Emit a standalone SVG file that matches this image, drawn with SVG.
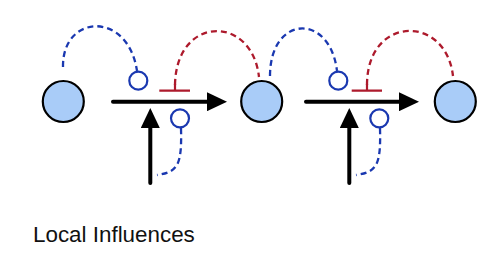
<svg xmlns="http://www.w3.org/2000/svg" width="500" height="265" viewBox="0 0 500 265">
<style>
.node{fill:#a9ccf8;stroke:#000;stroke-width:2.2}
.arrow{stroke:#000;stroke-width:4;fill:none;stroke-linecap:round}
.act{stroke:#1a38b0;stroke-width:2.3;fill:none;stroke-dasharray:6,4}
.inh{stroke:#ad1a2c;stroke-width:2.3;fill:none;stroke-dasharray:6,4}
.tbar{stroke:#ad1a2c;stroke-width:2.2;fill:none}
.ring{fill:#fff;stroke:#1a38b0;stroke-width:2.2}
.label{font-family:"Liberation Sans",Arial,sans-serif;font-size:22.4px;fill:#111}
</style>
<defs>
<marker id="ah" markerUnits="userSpaceOnUse" viewBox="0 0 20 19" markerWidth="20" markerHeight="19" refX="0" refY="9.5" orient="auto">
<path d="M0,0 L20,9.5 L0,19 z" fill="#000"/>
</marker>
</defs>
<g id="connectors">
<line class="arrow" x1="113" y1="101.7" x2="207" y2="101.7" marker-end="url(#ah)"/>
<line class="arrow" x1="150.3" y1="183" x2="150.3" y2="128" marker-end="url(#ah)"/>
<line class="arrow" x1="306" y1="101.7" x2="399" y2="101.7" marker-end="url(#ah)"/>
<line class="arrow" x1="349.3" y1="183" x2="349.3" y2="128" marker-end="url(#ah)"/>
<path class="act" d="M63,67 C62,14 128,10 137,71"/>
<path class="inh" d="M175,85 C176,15 252,14 259,77"/>
<path class="tbar" d="M159.3,90.7 H190 M175,90.7 V84"/>
<path class="act" d="M181,128 C182,165 178,172 157,175"/>
<path class="act" d="M270,76 C270,15 330,12 337,71"/>
<path class="inh" d="M367,85 C367,15 446,14 453,76"/>
<path class="tbar" d="M351.7,90.7 H382 M367,90.7 V84"/>
<path class="act" d="M380,128 C381,165 377,172 356,175"/>
</g>
<g id="inf1_act"><circle class="ring" cx="138.3" cy="80.7" r="9"/></g>
<g id="inf1_mod"><circle class="ring" cx="180" cy="118.3" r="9"/></g>
<g id="inf2_act"><circle class="ring" cx="338.3" cy="80.7" r="9"/></g>
<g id="inf2_mod"><circle class="ring" cx="379.3" cy="118.3" r="9"/></g>
<g id="n1"><circle class="node" cx="63.3" cy="101.5" r="20.5"/></g>
<g id="n2"><circle class="node" cx="261.7" cy="101.5" r="20.5"/></g>
<g id="n3"><circle class="node" cx="455.3" cy="101.5" r="20.5"/></g>
<text class="label" x="33" y="242">Local Influences</text>
</svg>
